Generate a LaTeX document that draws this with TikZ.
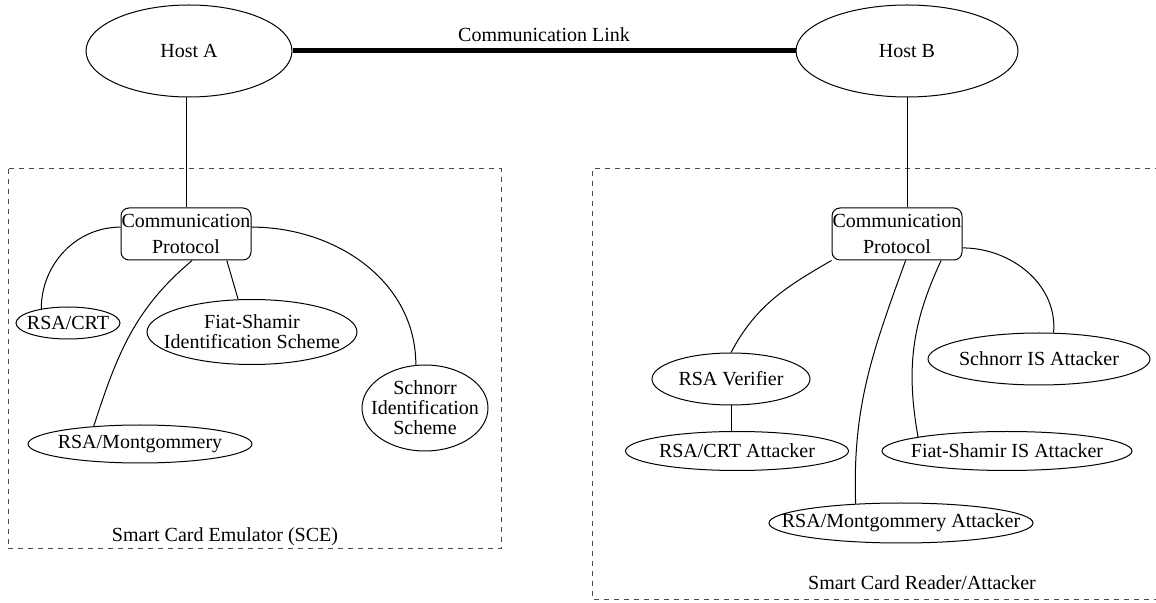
\documentclass[tikz,border=0pt]{standalone}
\usepackage{fontspec}
\setmainfont{Liberation Serif}
\usetikzlibrary{positioning,shapes.geometric}
\definecolor{zonerule}{HTML}{4A4A4A}

\begin{document}
\begin{tikzpicture}[x=0.5pt, y=-0.5pt,
  host/.style={draw, ellipse, inner sep=-40pt, line width=0.5pt, minimum height=46pt},
  oval/.style={draw, ellipse, inner sep=-40pt, line width=0.5pt, align=center,
    font=\fontsize{10}{10}\selectfont},
  proto/.style={draw, rounded corners=4pt, line width=0.5pt, align=center, inner sep=0pt,
    minimum width=65pt, minimum height=26pt, font=\fontsize{10}{13}\selectfont},
  wire/.style={line width=0.5pt},
  link/.style={line width=2.5pt},
  zone/.style={draw=zonerule, line width=0.5pt, dash pattern=on 2.5pt off 2.5pt}]
  \useasboundingbox (0,0) rectangle (1156,603);

  % hosts and the link between them
  \node[host, minimum width=103pt] (hostA) at (189,51) {Host A};
  \node[host, minimum width=111pt] (hostB) at (907,51) {Host B};
  \draw[link] (hostA) -- node[above] (linklabel) {Communication Link} (hostB);

  % card emulator side
  \draw[zone] (8,169) rectangle (501,549);
  \node[proto] (lcp) at (186,234) {Communication\\Protocol};
  \node[oval, minimum width=52pt, minimum height=16pt] (crt) at (68,323) {RSA/CRT};
  \node[oval, minimum width=105pt, minimum height=32.5pt] (fiat) at (252,332) {Fiat-Shamir\\Identification Scheme};
  \node[oval, minimum width=63pt, minimum height=43pt] (schnorr) at (425,408) {Schnorr\\Identification\\Scheme};
  \node[oval, minimum width=112pt, minimum height=19pt] (mont) at (140,444) {RSA/Montgommery};
  \node (sce) at (225,537) {Smart Card Emulator (SCE)};

  \draw[wire] (lcp.north |- hostA.south) -- (lcp.north);
  \draw[wire] (lcp.174) to[out=180, in=90] (crt.152);
  \draw[wire] (lcp.-77) to[out=220, in=72] (mont.159);
  \draw[wire] (lcp.-33) -- (fiat.113);
  \draw[wire] (lcp.6) to[out=0, in=90] (schnorr.102);

  % reader / attacker side
  \draw[zone] (1160,169) -- (592,169) -- (592,599) -- (1160,599);
  \node[proto] (rcp) at (897,234) {Communication\\Protocol};
  \node[oval, minimum width=79pt, minimum height=26pt] (verifier) at (731,379) {RSA Verifier};
  \node[oval, minimum width=111.5pt, minimum height=19.5pt] (crtatk) at (737,451) {RSA/CRT Attacker};
  \node[oval, minimum width=111pt, minimum height=26pt] (schnorratk) at (1039,359) {Schnorr IS Attacker};
  \node[oval, minimum width=125pt, minimum height=19.5pt] (fiatatk) at (1007,451) {Fiat-Shamir IS Attacker};
  \node[oval, minimum width=132pt, minimum height=20pt] (montatk) at (901,523) {RSA/Montgommery Attacker};
  \node (reader) at (922,583) {Smart Card Reader/Attacker};

  \draw[wire] (hostB.south) -- (hostB.south |- rcp.north);
  \draw[wire] (rcp.south west) to[out=210, in=62] (verifier.north);
  \draw[wire] (verifier.south) -- (verifier.south |- crtatk.north);
  \draw[wire] (rcp.-72) to[out=250, in=92] (montatk.157);
  \draw[wire] (rcp.-31) to[out=245, in=100] (fiatatk.171);
  \draw[wire] (rcp.-12) to[out=0, in=85] (schnorratk.61);
\end{tikzpicture}
\end{document}
